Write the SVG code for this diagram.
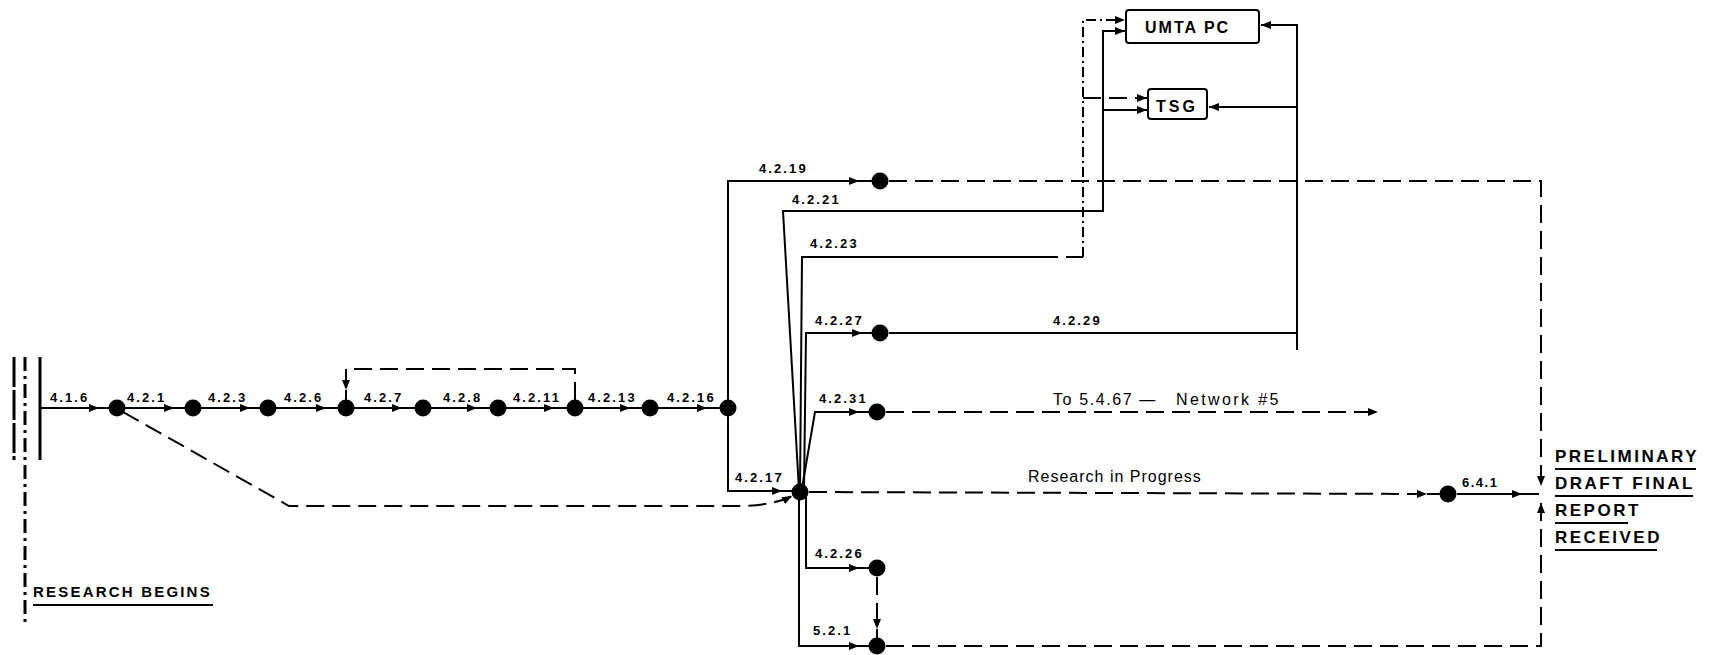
<svg xmlns="http://www.w3.org/2000/svg" width="1711" height="655" viewBox="0 0 1711 655">
<style>
.ln{fill:none;stroke:#000;stroke-width:2}
.da{stroke-dasharray:18 8}
.dd{stroke-dasharray:10 4 2 4}
.bar{fill:none;stroke:#000;stroke-width:3}
.ev{fill:#000}
.lb{font-family:"Liberation Sans",Arial,sans-serif;font-weight:bold;font-size:13px;letter-spacing:2.1px;fill:#000}
.tx{font-family:"Liberation Sans",Arial,sans-serif;font-size:16px;letter-spacing:1px;fill:#000}
.bx{fill:#fff;stroke:#000;stroke-width:2}
.bt{font-family:"Liberation Sans",Arial,sans-serif;font-weight:bold;font-size:16px;letter-spacing:2px;fill:#000}
.ms{font-family:"Liberation Sans",Arial,sans-serif;font-weight:bold;font-size:17px;letter-spacing:2.5px;fill:#000}
</style>
<defs>
<marker id="ah" markerUnits="userSpaceOnUse" markerWidth="10" markerHeight="8" refX="10" refY="4" orient="auto">
<path d="M0,0 L10,4 L0,8 z" fill="#000"/>
</marker>
</defs>
<rect width="1711" height="655" fill="#fff"/>

<g id="start-bars">
<line class="bar" x1="14" y1="357" x2="14" y2="460" stroke-dasharray="30 3"/>
<line class="bar" x1="25" y1="357" x2="25" y2="622" stroke-dasharray="14 5 3 5"/>
<line class="bar" x1="40" y1="357" x2="40" y2="460"/>
</g>

<g id="connectors">
<path class="ln" d="M40,408 H99" marker-end="url(#ah)"/><path class="ln" d="M99,408 H110"/>
<path class="ln" d="M117,408 H174" marker-end="url(#ah)"/><path class="ln" d="M174,408 H186"/>
<path class="ln" d="M193,408 H250" marker-end="url(#ah)"/><path class="ln" d="M250,408 H261"/>
<path class="ln" d="M268,408 H326" marker-end="url(#ah)"/><path class="ln" d="M326,408 H339"/>
<path class="ln" d="M346,408 H402" marker-end="url(#ah)"/><path class="ln" d="M402,408 H416"/>
<path class="ln" d="M423,408 H477" marker-end="url(#ah)"/><path class="ln" d="M477,408 H491"/>
<path class="ln" d="M498,408 H554" marker-end="url(#ah)"/><path class="ln" d="M554,408 H568"/>
<path class="ln" d="M575,408 H630" marker-end="url(#ah)"/><path class="ln" d="M630,408 H643"/>
<path class="ln" d="M650,408 H707" marker-end="url(#ah)"/><path class="ln" d="M707,408 H721"/>
<path class="ln da" d="M575,400 V369 H346 V390" marker-end="url(#ah)"/><path class="ln" d="M346,390 V400"/>
<path class="ln da" d="M123,412 L289,506 H742 Q775,505 792,496" marker-end="url(#ah)"/>
<path class="ln" d="M728,408 V181 H859" marker-end="url(#ah)"/><path class="ln" d="M859,181 H872"/>
<path class="ln da" d="M889,181 H1541 V486" marker-end="url(#ah)"/>
<path class="ln" d="M728,408 V491 H782" marker-end="url(#ah)"/><path class="ln" d="M782,491 H792"/>
<path class="ln" d="M799,490 L783,211 H1103 V31 H1125" marker-end="url(#ah)"/>
<path class="ln" d="M1103,110 H1147" marker-end="url(#ah)"/>
<path class="ln" d="M800,490 L802,257 H1040"/>
<path class="ln da" d="M1040,257 H1083"/>
<path class="ln dd" d="M1083,257 V20 H1125" marker-end="url(#ah)"/>
<path class="ln da" d="M1083,98 H1147" marker-end="url(#ah)"/>
<path class="ln" d="M804,490 L806,333 H862" marker-end="url(#ah)"/><path class="ln" d="M862,333 H872"/>
<path class="ln" d="M889,333 H1297"/>
<path class="ln" d="M1297,350 V25 H1261" marker-end="url(#ah)"/>
<path class="ln" d="M1297,107 H1209" marker-end="url(#ah)"/>
<path class="ln" d="M802,488 L815,412 H859" marker-end="url(#ah)"/><path class="ln" d="M859,412 H869"/>
<path class="ln da" d="M886,412 H1378" marker-end="url(#ah)"/>
<path class="ln da" d="M809,492 L1427,494" marker-end="url(#ah)"/><path class="ln" d="M1427,494 H1440"/>
<path class="ln" d="M1457,494 H1522" marker-end="url(#ah)"/><path class="ln" d="M1522,494 H1539"/>
<path class="ln" d="M806,492 V568 H859" marker-end="url(#ah)"/><path class="ln" d="M859,568 H869"/>
<path class="ln" d="M799,498 V646 H859" marker-end="url(#ah)"/><path class="ln" d="M859,646 H869"/>
<path class="ln da" d="M877,577 V629" marker-end="url(#ah)"/><path class="ln" d="M877,629 V638"/>
<path class="ln da" d="M886,646 H1541 V503" marker-end="url(#ah)"/>
</g>

<g id="labels">
<text class="lb" x="50" y="402">4.1.6</text>
<text class="lb" x="127" y="402">4.2.1</text>
<text class="lb" x="208" y="402">4.2.3</text>
<text class="lb" x="284" y="402">4.2.6</text>
<text class="lb" x="364" y="402">4.2.7</text>
<text class="lb" x="443" y="402">4.2.8</text>
<text class="lb" x="513" y="402">4.2.11</text>
<text class="lb" x="588" y="402">4.2.13</text>
<text class="lb" x="667" y="402">4.2.16</text>
<text class="lb" x="759" y="173">4.2.19</text>
<text class="lb" x="792" y="204">4.2.21</text>
<text class="lb" x="810" y="248">4.2.23</text>
<text class="lb" x="815" y="325">4.2.27</text>
<text class="lb" x="1053" y="325">4.2.29</text>
<text class="lb" x="819" y="403">4.2.31</text>
<text class="lb" x="735" y="482">4.2.17</text>
<text class="lb" x="815" y="558">4.2.26</text>
<text class="lb" x="813" y="635">5.2.1</text>
<text class="lb" x="1462" y="487" style="letter-spacing:1.5px">6.4.1</text>
<text class="tx" x="1053" y="405" style="letter-spacing:1.6px">To 5.4.67 —<tspan x="1176" style="letter-spacing:2.4px">Network #5</tspan></text>
<text class="tx" x="1028" y="482">Research in Progress</text>
</g>

<g id="nodes">
<g id="ev-4-1-6-end"><circle class="ev" cx="117" cy="408" r="8.5"/></g>
<g id="ev-4-2-1-end"><circle class="ev" cx="193" cy="408" r="8.5"/></g>
<g id="ev-4-2-3-end"><circle class="ev" cx="268" cy="408" r="8.5"/></g>
<g id="ev-4-2-6-end"><circle class="ev" cx="346" cy="408" r="8.5"/></g>
<g id="ev-4-2-7-end"><circle class="ev" cx="423" cy="408" r="8.5"/></g>
<g id="ev-4-2-8-end"><circle class="ev" cx="498" cy="408" r="8.5"/></g>
<g id="ev-4-2-11-end"><circle class="ev" cx="575" cy="408" r="8.5"/></g>
<g id="ev-4-2-13-end"><circle class="ev" cx="650" cy="408" r="8.5"/></g>
<g id="ev-4-2-16-end"><circle class="ev" cx="728" cy="408" r="8.5"/></g>
<g id="ev-hub"><circle class="ev" cx="800" cy="492" r="8.5"/></g>
<g id="ev-4-2-19-end"><circle class="ev" cx="880" cy="181" r="8.5"/></g>
<g id="ev-4-2-27-end"><circle class="ev" cx="880" cy="333" r="8.5"/></g>
<g id="ev-4-2-31-end"><circle class="ev" cx="877" cy="412" r="8.5"/></g>
<g id="ev-4-2-26-end"><circle class="ev" cx="877" cy="568" r="8.5"/></g>
<g id="ev-5-2-1-end"><circle class="ev" cx="877" cy="646" r="8.5"/></g>
<g id="ev-6-4-1-start"><circle class="ev" cx="1448" cy="494" r="8.5"/></g>
<g id="umta-pc"><rect class="bx" x="1126" y="10" width="133" height="33" rx="3"/><text class="bt" x="1145" y="33">UMTA PC</text></g>
<g id="tsg"><rect class="bx" x="1148" y="89" width="59" height="30" rx="3"/><text class="bt" x="1156" y="112" style="letter-spacing:3px">TSG</text></g>
<g id="research-begins"><text class="ms" x="33" y="597" style="font-size:15px;letter-spacing:2.2px">RESEARCH BEGINS</text><line class="ln" x1="33" y1="605" x2="213" y2="605"/></g>
<g id="final-report">
<text class="ms" x="1555" y="462">PRELIMINARY</text><line class="ln" x1="1555" y1="469" x2="1696" y2="469"/>
<text class="ms" x="1555" y="489">DRAFT FINAL</text><line class="ln" x1="1555" y1="496" x2="1693" y2="496"/>
<text class="ms" x="1555" y="516">REPORT</text><line class="ln" x1="1555" y1="523" x2="1628" y2="523"/>
<text class="ms" x="1555" y="543">RECEIVED</text><line class="ln" x1="1555" y1="550" x2="1657" y2="550"/>
</g>
</g>
</svg>
